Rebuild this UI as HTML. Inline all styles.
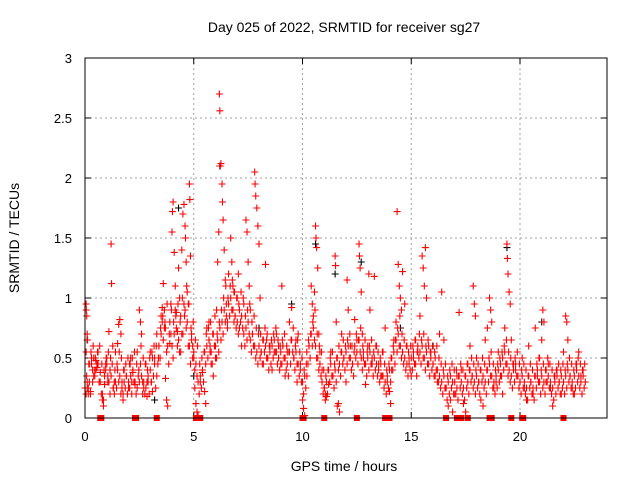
<!DOCTYPE html>
<html><head><meta charset="utf-8"><style>
html,body{margin:0;padding:0;background:#fff;}
svg{display:block;font-family:"Liberation Sans",sans-serif;}
</style></head><body>
<svg id="chart" width="640" height="480" viewBox="0 0 640 480" xmlns="http://www.w3.org/2000/svg">
<rect width="640" height="480" fill="#fff"/>
<text x="344" y="32" font-size="14" text-anchor="middle" fill="#000">Day 025 of 2022, SRMTID for receiver sg27</text>
<text x="344" y="471" font-size="14" text-anchor="middle" fill="#000">GPS time / hours</text>
<text transform="translate(19,238) rotate(-90)" font-size="14" text-anchor="middle" fill="#000">SRMTID / TECUs</text>
<g id="grid"></g><g id="ticks"></g><g id="marks"></g>
<rect x="85" y="58" width="522" height="360" fill="none" stroke="#000" stroke-width="1"/>
</svg>
<script>
const xTicks=[0,5,10,15,20];
const yTicks=[0,0.5,1,1.5,2,2.5,3];
const yTickLabels=["0","0.5","1","1.5","2","2.5","3"];
const samples=[[0.05,0.95],[0.06,0.9],[0.08,0.85],[0.1,0.7],[0.12,0.65],[0.05,0.55],[0.1,0.25],[0.15,0.2],[0.2,0.3],[0.25,0.22],[0.3,0.45],[0.35,0.4],[0.4,0.5],[0.45,0.35],[0.5,0.48],[0.55,0.42],[0.6,0.55],[0.65,0.3],[0.7,0.38],[0.8,0.15],[0.85,0.1],[0.9,0.28],[0.95,0.45],[1.0,0.5],[1.05,0.35],[1.1,0.72],[1.15,0.4],[1.2,1.45],[1.22,1.12],[1.3,0.25],[1.35,0.3],[1.4,0.55],[1.5,0.62],[1.55,0.78],[1.6,0.82],[1.65,0.7],[1.7,0.3],[1.75,0.2],[1.8,0.4],[1.9,0.35],[2.0,0.25],[2.05,0.45],[2.1,0.5],[2.15,0.3],[2.2,0.38],[2.3,0.28],[2.4,0.55],[2.5,0.9],[2.55,0.8],[2.6,0.7],[2.65,0.3],[2.7,0.25],[2.8,0.45],[2.85,0.18],[2.9,0.35],[3.0,0.55],[3.05,0.3],[3.1,0.22],[3.2,0.5],[3.3,0.7],[3.4,0.6],[3.45,0.5],[3.5,0.85],[3.55,0.92],[3.6,1.12],[3.65,0.75],[3.7,0.33],[3.75,0.15],[3.8,0.1],[3.9,0.62],[3.95,0.95],[4.0,1.55],[4.02,1.72],[4.05,1.8],[4.1,1.38],[4.15,1.1],[4.2,0.88],[4.25,0.72],[4.3,1.25],[4.35,1.0],[4.4,0.55],[4.45,1.4],[4.5,1.7],[4.55,1.78],[4.6,1.6],[4.62,1.5],[4.65,1.3],[4.7,1.05],[4.75,0.95],[4.8,1.95],[4.82,1.82],[4.85,1.35],[4.9,0.7],[4.95,0.6],[5.0,0.55],[5.05,0.25],[5.1,0.12],[5.15,0.05],[5.2,0.02],[5.3,0.3],[5.4,0.38],[5.5,0.22],[5.55,0.12],[5.6,0.75],[5.7,0.8],[5.75,0.6],[5.8,0.45],[5.9,0.35],[6.0,0.5],[6.05,0.9],[6.1,1.3],[6.15,1.55],[6.18,2.7],[6.2,2.56],[6.22,2.1],[6.25,2.12],[6.3,1.95],[6.32,1.8],[6.35,1.65],[6.4,1.4],[6.45,1.15],[6.5,0.95],[6.55,0.8],[6.6,1.2],[6.7,1.5],[6.75,1.3],[6.8,1.1],[6.85,1.05],[6.9,0.85],[7.0,1.0],[7.05,1.2],[7.1,0.75],[7.2,0.6],[7.3,0.95],[7.4,1.65],[7.45,1.55],[7.5,1.3],[7.55,1.1],[7.6,0.9],[7.7,0.7],[7.8,2.05],[7.82,1.95],[7.85,1.85],[7.9,1.75],[7.95,1.6],[8.0,1.45],[8.05,1.0],[8.1,0.55],[8.2,0.45],[8.3,1.28],[8.35,0.65],[8.4,0.5],[8.5,0.6],[8.6,0.4],[8.7,0.55],[8.8,0.7],[8.9,0.6],[9.0,0.45],[9.05,1.1],[9.1,0.6],[9.2,0.35],[9.3,0.55],[9.4,0.8],[9.5,0.92],[9.6,0.5],[9.7,0.65],[9.75,0.3],[9.8,0.7],[9.9,0.45],[10.0,0.15],[10.05,0.08],[10.1,0.02],[10.2,0.35],[10.3,0.6],[10.4,1.1],[10.45,0.95],[10.5,0.85],[10.55,1.05],[10.6,1.6],[10.62,1.5],[10.65,1.42],[10.7,1.25],[10.75,0.7],[10.8,0.55],[10.9,0.4],[11.0,0.25],[11.05,0.2],[11.1,0.18],[11.2,0.28],[11.3,0.55],[11.4,0.35],[11.5,1.35],[11.52,1.27],[11.55,0.8],[11.6,0.1],[11.65,0.12],[11.7,0.05],[11.8,0.7],[11.9,0.5],[12.0,0.3],[12.05,1.15],[12.1,0.9],[12.2,0.6],[12.3,0.45],[12.4,0.82],[12.5,0.65],[12.6,1.45],[12.62,1.35],[12.65,1.25],[12.7,1.05],[12.75,0.7],[12.8,0.5],[12.9,0.28],[13.0,0.6],[13.05,1.2],[13.1,0.9],[13.2,0.5],[13.3,1.18],[13.4,0.6],[13.5,0.45],[13.6,0.35],[13.7,0.55],[13.8,0.75],[13.9,0.3],[14.0,0.22],[14.05,0.12],[14.1,0.4],[14.2,0.65],[14.3,0.8],[14.35,1.72],[14.4,1.28],[14.45,1.1],[14.5,1.0],[14.55,0.9],[14.6,1.22],[14.7,0.95],[14.8,0.6],[14.9,0.45],[15.0,0.35],[15.1,0.5],[15.2,0.65],[15.3,0.55],[15.4,0.85],[15.5,1.35],[15.55,1.25],[15.6,1.1],[15.65,1.42],[15.7,1.0],[15.8,0.6],[15.9,0.55],[16.0,0.45],[16.1,0.35],[16.2,0.3],[16.3,0.7],[16.4,1.05],[16.5,0.65],[16.6,0.25],[16.7,0.1],[16.8,0.15],[16.9,0.05],[17.0,0.2],[17.1,0.35],[17.2,0.88],[17.3,0.4],[17.4,0.12],[17.5,0.05],[17.6,0.45],[17.7,0.6],[17.8,0.35],[17.85,1.1],[17.9,0.95],[17.95,0.85],[18.0,0.5],[18.1,0.3],[18.2,0.15],[18.3,0.1],[18.4,0.65],[18.5,0.75],[18.6,1.0],[18.65,0.9],[18.7,0.8],[18.8,0.25],[18.9,0.3],[19.0,0.55],[19.1,0.35],[19.2,0.2],[19.3,0.75],[19.4,1.45],[19.42,1.33],[19.45,1.2],[19.5,1.05],[19.55,0.95],[19.6,0.65],[19.7,0.45],[19.8,0.4],[19.9,0.35],[20.0,0.3],[20.1,0.5],[20.2,0.25],[20.3,0.15],[20.4,0.6],[20.5,0.3],[20.6,0.2],[20.7,0.75],[20.8,0.35],[20.9,0.5],[21.0,0.65],[21.05,0.9],[21.1,0.8],[21.2,0.3],[21.3,0.45],[21.4,0.25],[21.5,0.1],[21.6,0.35],[21.7,0.4],[21.8,0.3],[21.9,0.2],[22.0,0.55],[22.1,0.85],[22.15,0.8],[22.2,0.65],[22.3,0.35],[22.4,0.25],[22.5,0.2],[22.6,0.45],[22.7,0.55],[22.8,0.35],[22.9,0.4],[23.0,0.3]];
const coreStep=0.1;
const coreValues=[.25,.3,.45,.5,.35,.4,.45,.3,.2,.35,
.45,.3,.35,.25,.3,.4,.35,.25,.3,.35,
.3,.35,.4,.3,.25,.3,.35,.3,.25,.3,
.4,.5,.45,.35,.6,.7,.65,.75,.6,.8,
.6,.7,.75,.65,.85,.7,.9,.8,.6,.65,
.5,.45,.3,.35,.4,.55,.6,.65,.55,.7,
.6,.65,.75,.8,.9,.85,.95,1.0,.9,.85,
.8,.9,.85,.7,.75,.8,.65,.7,.6,.55,
.6,.55,.65,.6,.5,.55,.6,.65,.55,.5,
.55,.6,.5,.45,.55,.65,.5,.55,.45,.4,
.3,.35,.55,.6,.7,.75,.6,.5,.45,.3,
.25,.3,.4,.45,.35,.4,.5,.45,.55,.5,
.55,.6,.5,.45,.6,.55,.65,.5,.55,.45,
.5,.55,.45,.5,.45,.4,.45,.35,.3,.35,
.4,.5,.55,.65,.7,.6,.55,.5,.45,.5,
.5,.55,.45,.6,.55,.6,.5,.55,.45,.5,
.45,.5,.4,.35,.3,.35,.25,.3,.35,.3,
.3,.25,.35,.3,.25,.35,.3,.4,.35,.3,
.35,.3,.4,.35,.3,.4,.45,.35,.3,.35,
.4,.45,.5,.55,.45,.4,.35,.4,.45,.35,
.3,.35,.3,.25,.35,.3,.25,.35,.4,.3,
.35,.3,.4,.35,.3,.25,.3,.35,.3,.35,
.3,.35,.4,.35,.3,.35,.4,.35,.3,.35];
const coreLowValues=[.2,.25,.2,.3,.4,.45,.3,.2,.15,.4,
.3,.2,.45,.2,.25,.3,.2,.15,.25,.2,
.25,.2,.3,.2,.35,.45,.2,.2,.3,.2,
.3,.35,.25,.45,.5,.8,.9,.55,.45,.7,
.5,.9,.6,.55,.7,.95,.75,.6,.45,.5,
.4,.35,.2,.25,.3,.45,.5,.55,.45,.6,
.5,.55,.65,.7,.8,.75,.85,.9,.8,.75,
.7,.8,.75,.6,.65,.7,.55,.6,.5,.45,
.5,.45,.55,.5,.4,.45,.5,.55,.45,.4,
.45,.5,.4,.35,.45,.55,.4,.45,.35,.3,
.2,.25,.45,.5,.6,.65,.5,.4,.35,.2,
.15,.2,.3,.35,.25,.3,.4,.35,.45,.4,
.45,.5,.4,.35,.5,.45,.55,.4,.45,.35,
.4,.45,.35,.4,.35,.3,.35,.25,.2,.25,
.3,.4,.45,.55,.6,.5,.45,.4,.35,.4,
.4,.45,.35,.5,.45,.5,.4,.45,.35,.4,
.35,.4,.3,.25,.2,.25,.15,.2,.25,.2,
.2,.15,.25,.2,.15,.25,.2,.3,.25,.2,
.25,.2,.3,.25,.2,.3,.35,.25,.2,.25,
.3,.35,.4,.45,.35,.3,.25,.3,.35,.25,
.2,.25,.2,.15,.25,.2,.15,.25,.3,.2,
.25,.2,.3,.25,.2,.15,.2,.25,.2,.25,
.2,.25,.3,.25,.2,.25,.3,.25,.2,.25];
const coreHighValues=[.35,.45,.55,.6,.5,.55,.6,.45,.4,.5,
.55,.5,.6,.4,.45,.55,.5,.4,.45,.5,
.45,.5,.55,.45,.4,.6,.5,.45,.4,.5,
.55,.6,.6,.5,.75,.85,.8,.95,.7,.9,
.8,.85,.95,.8,1.0,.85,1.1,.95,.75,.8,
.65,.6,.45,.5,.55,.7,.75,.8,.7,.85,
.7,.8,.9,1.0,1.1,1.0,1.1,1.15,1.05,1.0,
.95,1.05,1.0,.85,.9,.95,.8,.85,.75,.7,
.7,.65,.75,.7,.6,.65,.7,.75,.65,.6,
.65,.7,.6,.55,.65,.75,.6,.65,.55,.5,
.4,.45,.65,.7,.8,.9,.7,.6,.55,.4,
.35,.4,.5,.55,.45,.5,.6,.55,.65,.6,
.65,.7,.6,.55,.7,.65,.75,.6,.65,.55,
.6,.65,.55,.6,.55,.5,.55,.45,.4,.45,
.5,.6,.65,.75,.85,.7,.65,.6,.55,.6,
.6,.65,.55,.7,.65,.7,.6,.65,.55,.6,
.55,.6,.5,.45,.4,.45,.35,.4,.45,.4,
.4,.35,.45,.4,.35,.45,.4,.5,.45,.4,
.45,.4,.5,.45,.4,.5,.55,.45,.4,.45,
.5,.55,.6,.65,.55,.5,.45,.5,.55,.45,
.4,.45,.4,.35,.45,.4,.35,.45,.5,.4,
.45,.4,.5,.45,.4,.35,.4,.45,.4,.45,
.4,.45,.5,.45,.4,.45,.5,.45,.4,.45];
const zeroTimes=[0.7,0.75,2.3,2.35,3.3,5.1,5.2,5.3,10.0,10.05,11.0,12.5,13.8,14.0,16.6,17.1,17.2,17.3,17.6,18.6,18.7,19.6,20.1,20.15,22.0];
const blackSamples=[[4.3,1.75],[6.2,2.1],[10.6,1.45],[19.4,1.42],[12.7,1.3],[8.0,0.75],[0.1,0.65],[3.2,0.15],[5.0,0.35],[9.5,0.95],[14.5,0.75],[16.0,0.6],[21.0,0.8],[11.5,1.2],[6.8,0.9]];

const NS="http://www.w3.org/2000/svg";
const X0=85,X1=607,Y0=418,Y1=58,XMAX=24,YMAX=3;
const xs=t=>X0+(X1-X0)*t/XMAX;
const ys=v=>Y0-(Y0-Y1)*v/YMAX;
function mk(tag,parent,attrs){const e=document.createElementNS(NS,tag);for(const k in attrs)e.setAttribute(k,attrs[k]);parent.appendChild(e);return e;}
const grid=document.getElementById('grid'),ticks=document.getElementById('ticks'),marks=document.getElementById('marks');
xTicks.forEach(t=>{
  const x=xs(t);
  if(t>0){const g=mk('line',grid,{x1:x,x2:x,y1:Y1,y2:Y0,stroke:'#a0a0a0','stroke-dasharray':'2,3'});
  
  }
  mk('line',ticks,{x1:x,x2:x,y1:Y0,y2:Y0-6,stroke:'#000'});
  mk('line',ticks,{x1:x,x2:x,y1:Y1,y2:Y1+6,stroke:'#000'});
  const l=mk('text',ticks,{x:x,y:Y0+23,'font-size':13,'text-anchor':'middle'});
  l.textContent=String(t);
  
  
});
yTicks.forEach((v,i)=>{
  const y=ys(v);
  if(v>0&&v<YMAX){const g=mk('line',grid,{x1:X0,x2:X1,y1:y,y2:y,stroke:'#a0a0a0','stroke-dasharray':'2,3'});
  
  }
  mk('line',ticks,{x1:X0,x2:X0+6,y1:y,y2:y,stroke:'#000'});
  mk('line',ticks,{x1:X1,x2:X1-6,y1:y,y2:y,stroke:'#000'});
  const l=mk('text',ticks,{x:X0-13,y:y+5,'font-size':13,'text-anchor':'end'});
  l.textContent=yTickLabels[i];
  
  
});
function plus(t,v,color,name){
  const x=xs(t),y=ys(v);
  const p=mk('path',marks,{d:`M${x-3.5},${y}H${x+3.5}M${x},${y-3.5}V${y+3.5}`,stroke:color,'stroke-width':1.1,fill:'none'});
  
  
}
blackSamples.forEach(s=>plus(s[0],s[1],'#000','black-point'));
coreValues.forEach((v,i)=>plus(i*coreStep,v,'#f00','core-point'));
coreLowValues.forEach((v,i)=>plus(0.05+i*coreStep,v,'#f00','core-low-point'));
coreHighValues.forEach((v,i)=>plus(0.075+i*coreStep,v,'#f00','core-high-point'));
samples.forEach(s=>plus(s[0],s[1],'#f00','data-point'));
zeroTimes.forEach(t=>{
  const r=mk('rect',marks,{x:xs(t)-3,y:Y0-3,width:6,height:6,fill:'#f00'});
  
  
});
</script>
</body></html>
